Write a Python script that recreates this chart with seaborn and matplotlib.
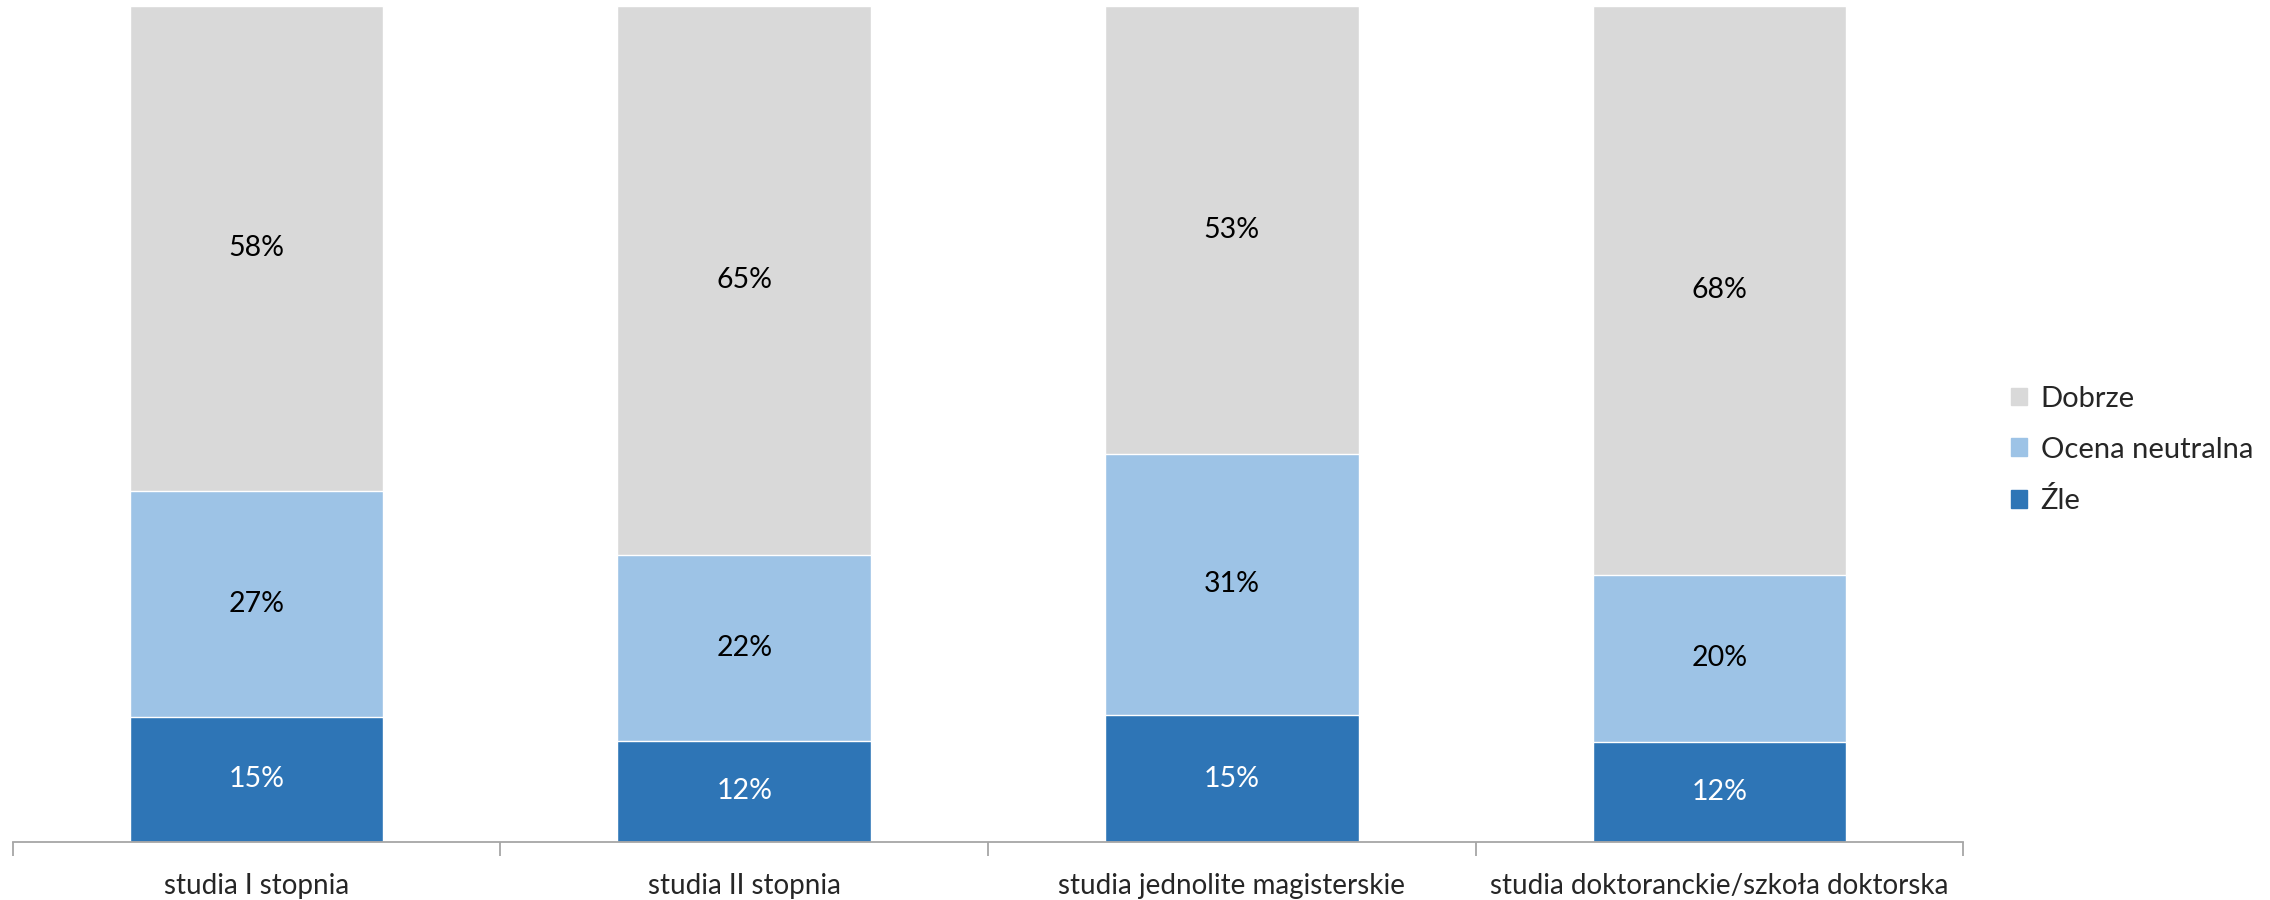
import numpy as np
import pandas as pd
import matplotlib
matplotlib.use('Agg')
import matplotlib.pyplot as plt
import seaborn as sns

# --- dane ---
kategorie = ['studia I stopnia', 'studia II stopnia',
             'studia jednolite magisterskie', 'studia doktoranckie/szkoła doktorska']
zle = [15, 12, 15, 12]
neutralna = [27, 22, 31, 20]
dobrze = [58, 65, 53, 68]

serie = ['Źle', 'Ocena neutralna', 'Dobrze']
kolory = {'Źle': '#2E75B6', 'Ocena neutralna': '#9DC3E6', 'Dobrze': '#D9D9D9'}
kolor_tekstu = {'Źle': 'white', 'Ocena neutralna': 'black', 'Dobrze': 'black'}

sns.set_theme(style='white')
plt.rcParams['font.family'] = ['Lato', 'DejaVu Sans']

# --- normalizacja do 100% i skumulowane sumy ---
df = pd.DataFrame({'kategoria': kategorie, 'Źle': zle,
                   'Ocena neutralna': neutralna, 'Dobrze': dobrze})
suma = df[serie].sum(axis=1)
for s in serie:
    df[s + '_pct'] = df[s] / suma * 100
df['Źle_cum'] = df['Źle_pct']
df['Ocena neutralna_cum'] = df['Źle_cum'] + df['Ocena neutralna_pct']
df['Dobrze_cum'] = df['Ocena neutralna_cum'] + df['Dobrze_pct']

fig = plt.figure(figsize=(22.7, 9), dpi=100)
ax = fig.add_axes([0.0057, 0.0644, 0.8591, 0.9289])

# rysuj od najwyższej skumulowanej serii
for s in reversed(serie):
    sns.barplot(data=df, x='kategoria', y=s + '_cum', color=kolory[s],
                width=0.52, saturation=1, ax=ax, label=s)

# --- etykiety ---
for i, row in df.iterrows():
    dol = 0
    for s in serie:
        h = row[s + '_pct']
        ax.text(i, dol + h / 2, f'{row[s]}%', ha='center', va='center',
                fontsize=20.5, color=kolor_tekstu[s])
        dol += h

ax.set_ylim(0, 100)
ax.set_xlim(-0.5, len(kategorie) - 0.5)
ax.set_xlabel('')
ax.set_ylabel('')
ax.set_yticks([])
for sp in ['top', 'right', 'left']:
    ax.spines[sp].set_visible(False)
ax.spines['bottom'].set_color('#A6A6A6')
ax.spines['bottom'].set_linewidth(1.3)

ax.tick_params(axis='x', which='major', bottom=True, length=0, pad=22, labelsize=20)
ax.set_xticks(np.arange(-0.5, len(kategorie)), minor=True)
ax.tick_params(axis='x', which='minor', bottom=True, length=10, width=1.3,
               color='#A6A6A6', direction='out')

# --- legenda ---
uchwyty = [plt.Rectangle((0, 0), 1, 1, color=kolory[s]) for s in reversed(serie)]
ax.legend(handles=uchwyty, labels=list(reversed(serie)), loc='center left',
          bbox_to_anchor=(0.8745, 0.5), bbox_transform=fig.transFigure,
          frameon=False, fontsize=21, handlelength=0.55, handleheight=0.55,
          handletextpad=0.45, labelspacing=0.85)

fig.savefig('out.png', dpi=100)
